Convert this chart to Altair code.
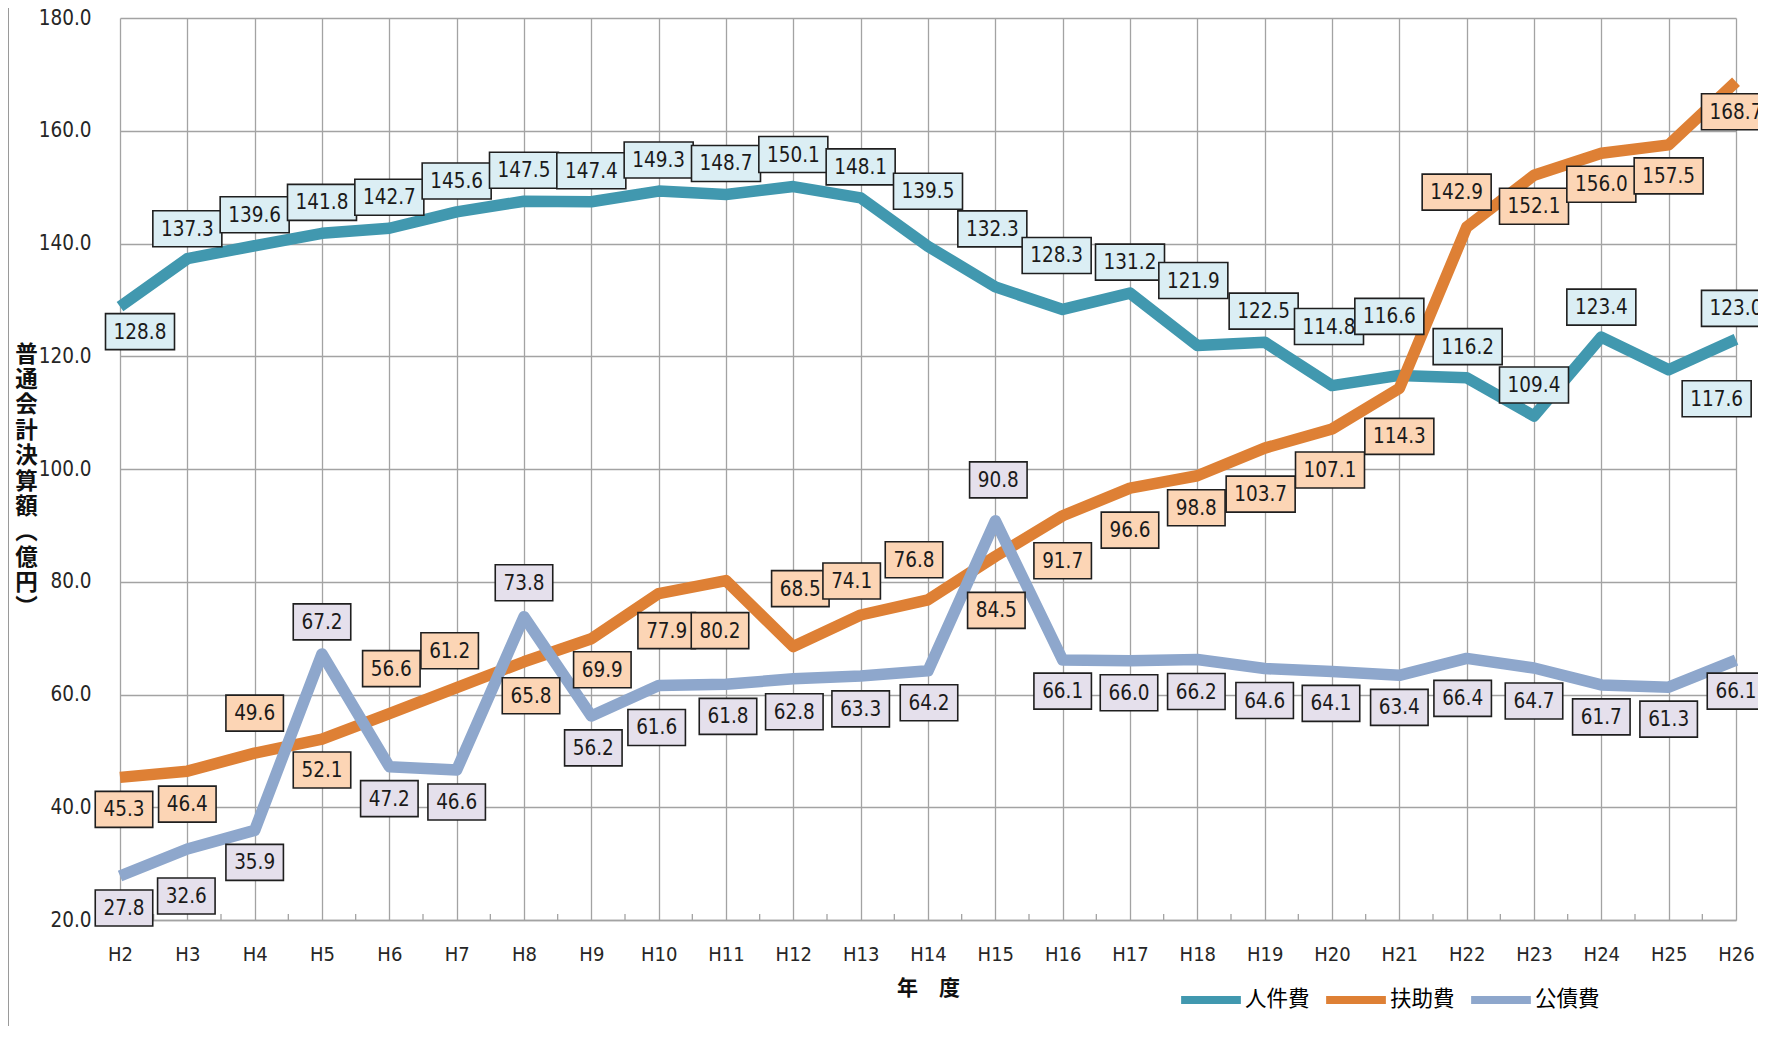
import altair as alt
import pandas as pd

# ---------------- data ----------------
categories = ["H2", "H3", "H4", "H5", "H6", "H7", "H8", "H9", "H10", "H11", "H12", "H13",
              "H14", "H15", "H16", "H17", "H18", "H19", "H20", "H21", "H22", "H23", "H24",
              "H25", "H26"]
series_names = ["人件費", "扶助費", "公債費"]

personnel = [128.8, 137.3, 139.6, 141.8, 142.7, 145.6, 147.5, 147.4, 149.3, 148.7, 150.1, 148.1,
             139.5, 132.3, 128.3, 131.2, 121.9, 122.5, 114.8, 116.6, 116.2, 109.4, 123.4, 117.6, 123.0]
assistance = [45.3, 46.4, 49.6, 52.1, 56.6, 61.2, 65.8, 69.9, 77.9, 80.2, 68.5, 74.1,
              76.8, 84.5, 91.7, 96.6, 98.8, 103.7, 107.1, 114.3, 142.9, 152.1, 156.0, 157.5, 168.7]
debt = [27.8, 32.6, 35.9, 67.2, 47.2, 46.6, 73.8, 56.2, 61.6, 61.8, 62.8, 63.3,
        64.2, 90.8, 66.1, 66.0, 66.2, 64.6, 64.1, 63.4, 66.4, 64.7, 61.7, 61.3, 66.1]

# data-label placement (pixels: dx to the right, dy downward from each point)
personnel_dx = [20, 0, 0, 0, 0, 0, 0, 0, 0, 0, 0, 0, 0, -3, -6, 0, -4, -1, -3, -10, 1, 0, 0, 48, 0]
personnel_dy = [25, -30, -31, -31, -31, -31, -31, -31, -31, -31, -32, -31, -55, -58, -54, -31, -65,
                -31, -59, -59, -31, -31, -30, 29, -31]
assistance_dx = [4, 0, 0, 0, 2, -7, 7, 11, 8, -6, 7, -9, -14, 1, 0, 0, -1, -4, -2, 0, -10, 0, 0, 0, 0]
assistance_dy = [32, 33, -40, 31, -45, -37, 34, 31, 37, 50, -58, -34, -40, 54, 45, 42, 32, 46, 41,
                 48, -35, 31, 31, 31, 30]
debt_dx = [4, -1, 0, 0, 0, 0, 0, 2, -2, 2, 1, 0, 1, 3, 0, -1, -1, 0, -1, 0, -4, 0, 0, 0, 0]
debt_dy = [32, 47, 32, -32, 32, 32, -34, 32, 42, 32, 33, 33, 32, -41, 31, 32, 32, 32, 32, 32, 40,
           33, 32, 32, 31]

line_colors = ["#4198AF", "#DE8035", "#8EA7CC"]
label_fills = ["#DBEEF4", "#FCD5B5", "#E5E0EC"]

rows = []
for s, vals, dxs, dys, fill in zip(series_names, [personnel, assistance, debt],
                                   [personnel_dx, assistance_dx, debt_dx],
                                   [personnel_dy, assistance_dy, debt_dy], label_fills):
    for i, (c, v) in enumerate(zip(categories, vals)):
        rows.append({"idx": i, "cat": c, "series": s, "value": v,
                     "label": f"{v:.1f}", "dx": dxs[i], "dy": dys[i], "fillc": fill})
df = pd.DataFrame(rows)

# ---------------- geometry ----------------
W, H = 1616, 902
NX = len(categories) - 1
YMIN, YMAX = 20, 180
PPX = W / NX
PPY = H / (YMAX - YMIN)
BOX_H = 36
LABEL_FONT = "DejaVu Sans Condensed, DejaVu Sans"
JP_FONT = "Noto Sans CJK JP"

label_expr = "[" + ",".join(f"'{c}'" for c in categories) + "][datum.value]"

x_scale = alt.Scale(domain=[0, NX], nice=False, zero=False)
y_scale = alt.Scale(domain=[YMIN, YMAX], nice=False, zero=False)

x_axis = alt.Axis(values=list(range(len(categories))), labelExpr=label_expr, grid=True,
                  gridColor="#A3A3A3", gridWidth=1.3, ticks=False, domain=True,
                  domainColor="#A3A3A3", domainWidth=1.5,
                  labelFont=LABEL_FONT, labelFontSize=20, labelColor="#262626",
                  labelBaseline="middle", labelPadding=34, labelFlush=False,
                  title="年　度", titleFont=JP_FONT, titleFontSize=21, titleFontWeight="bold",
                  titleColor="#111", titleBaseline="middle", titleAlign="center",
                  titleX=W / 2, titleY=68)
y_axis = alt.Axis(values=list(range(YMIN, YMAX + 1, 20)), format=".1f", grid=True,
                  gridColor="#A3A3A3", gridWidth=1.3, ticks=False, domain=False,
                  labelFont=LABEL_FONT, labelFontSize=20.5, labelColor="#262626",
                  labelPadding=29, labelFlush=False,
                  title=["普", "通", "会", "計", "決", "算", "額", "︵", "億", "円", "︶"],
                  titleAngle=0, titleAlign="center", titleBaseline="top",
                  titleX=-94, titleY=325, titleFont=JP_FONT, titleFontSize=22.5,
                  titleFontWeight="bold", titleColor="#111", titleLineHeight=25.4)

base = alt.Chart(df)

color_scale = alt.Scale(domain=series_names, range=line_colors)

# axes + grid carrier
axes_layer = base.mark_point(opacity=0).encode(
    x=alt.X("idx:Q", scale=x_scale, axis=x_axis),
    y=alt.Y("value:Q", scale=y_scale, axis=y_axis),
)

line_layers = []
for k, s in enumerate(series_names):
    legend = None
    if k == 0:
        legend = alt.Legend(title=None, orient="none", direction="horizontal",
                            legendX=1057, legendY=948, symbolType="stroke",
                            symbolSize=3570, symbolStrokeWidth=8, labelFont=JP_FONT,
                            labelFontSize=21.5, labelColor="#000", labelOffset=0,
                            columnPadding=0, padding=0)
    line_layers.append(
        base.transform_filter(alt.datum.series == s).mark_line(
            strokeWidth=11.5, strokeJoin="round", strokeCap="butt").encode(
            x=alt.X("idx:Q", scale=x_scale),
            y=alt.Y("value:Q", scale=y_scale),
            color=alt.Color("series:N", scale=color_scale, legend=legend),
            order="idx:Q",
        )
    )

minor_ticks = base.transform_filter(
    (alt.datum.series == series_names[0]) & (alt.datum.idx < NX)
).transform_calculate(mid="datum.idx + 0.5").mark_rule(color="#A3A3A3", strokeWidth=1.3).encode(
    x=alt.X("mid:Q", scale=x_scale),
    y=alt.value(H),
    y2=alt.value(H - 6),
)

label_base = base.transform_calculate(
    cx=f"datum.idx + datum.dx / {PPX}",
    cy=f"datum.value - datum.dy / {PPY}",
    bw=f"length(datum.label) > 4 ? 69 : 57.5",
).transform_calculate(
    x1=f"datum.cx - datum.bw / 2 / {PPX}",
    x2=f"datum.cx + datum.bw / 2 / {PPX}",
    y1=f"datum.cy - {BOX_H / 2} / {PPY}",
    y2=f"datum.cy + {BOX_H / 2} / {PPY}",
)

boxes = label_base.mark_rect(stroke="#1f1f1f", strokeWidth=1.6).encode(
    x=alt.X("x1:Q", scale=x_scale),
    x2="x2:Q",
    y=alt.Y("y1:Q", scale=y_scale),
    y2="y2:Q",
    fill=alt.Fill("fillc:N", scale=None),
)

texts = label_base.mark_text(font=LABEL_FONT, fontSize=20.5, color="#1a1a1a",
                             align="center", baseline="middle", dy=1).encode(
    x=alt.X("cx:Q", scale=x_scale),
    y=alt.Y("cy:Q", scale=y_scale),
    text="label:N",
)

frame = alt.Chart(pd.DataFrame({"a": [0]})).mark_rule(color="#9A9A9A", strokeWidth=1).encode(
    x=alt.value(-111.5), y=alt.value(-10), y2=alt.value(1010))

chart = alt.layer(axes_layer, minor_ticks, *line_layers, boxes, texts, frame).properties(
    width=W, height=H,
    padding={"left": 112, "top": 10, "right": 22, "bottom": 106},
    autosize=alt.AutoSizeParams(type="none"),
).configure_view(stroke=None)

chart.save("out.html", embed_options={"renderer": "svg", "actions": False})
